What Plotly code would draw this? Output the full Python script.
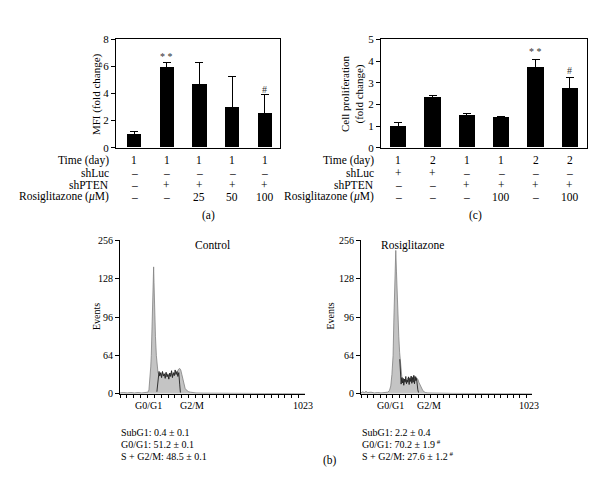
import plotly.graph_objects as go

# ---------------- data ----------------
# Panel (a): MFI fold change
a_vals = [1.0, 5.9, 4.7, 3.0, 2.55]
a_err = [0.2, 0.4, 1.6, 2.25, 1.35]
a_time = ["1", "1", "1", "1", "1"]
a_shluc = ["–", "–", "–", "–", "–"]
a_shpten = ["–", "+", "+", "+", "+"]
a_rosi = ["–", "–", "25", "50", "100"]
a_marks = ["", "* *", "", "", "#"]
a_mark_y = [0, 6.7, 0, 0, 4.3]

# Panel (c): Cell proliferation fold change
c_vals = [1.0, 2.32, 1.48, 1.4, 3.72, 2.72]
c_err = [0.18, 0.11, 0.1, 0.05, 0.36, 0.53]
c_time = ["1", "2", "1", "1", "2", "2"]
c_shluc = ["+", "+", "–", "–", "–", "–"]
c_shpten = ["–", "–", "+", "+", "+", "+"]
c_rosi = ["–", "–", "–", "100", "–", "100"]
c_marks = ["", "", "", "", "* *", "#"]
c_mark_y = [0, 0, 0, 0, 4.46, 3.56]

row_labels = ["Time (day)", "shLuc", "shPTEN", "Rosiglitazone (<i>μ</i>M)"]

# Panel (b): DNA content histograms (channel, level on the 0-4 display axis)
hist_ticks = [0, 1, 2, 3, 4]
hist_ticktext = ["0", "64", "96", "128", "256"]

ctrl_ch = [0, 20, 40, 60, 80, 100, 120, 140, 155, 160, 166, 170, 173, 176, 179, 182, 184, 186,
           188, 190, 192, 196, 201, 205, 210, 216, 222, 228, 234, 240, 246, 252, 258, 264, 270,
           276, 282, 288, 294, 300, 306, 312, 318, 324, 330, 336, 342, 348, 354, 360, 366, 372,
           380, 390, 400, 420, 460, 520, 600, 700, 800, 900, 1023]
ctrl_lv = [0.02, 0.03, 0.02, 0.03, 0.02, 0.03, 0.02, 0.03, 0.04, 0.1, 0.4, 0.7, 1.0, 1.5, 2.0, 2.6,
           3.0, 3.31, 2.9, 2.4, 2.0, 1.5, 1.0, 0.7, 0.55, 0.5, 0.53, 0.48, 0.55, 0.5, 0.47, 0.53,
           0.49, 0.52, 0.46, 0.5, 0.54, 0.48, 0.52, 0.5, 0.55, 0.53, 0.6, 0.64, 0.66, 0.62, 0.5,
           0.35, 0.22, 0.14, 0.1, 0.07, 0.05, 0.04, 0.03, 0.02, 0.015, 0.01, 0.01, 0.008, 0.005,
           0.005, 0.0]
ctrl_s_ch = [204, 209, 213, 216, 220, 225, 230, 235, 240, 245, 250, 255, 260, 265, 270, 275, 280,
             285, 290, 295, 300, 305, 310, 315, 320, 325, 330, 334]
ctrl_s_lv = [0.05, 0.25, 0.5, 0.58, 0.46, 0.55, 0.42, 0.58, 0.46, 0.52, 0.4, 0.56, 0.44, 0.5, 0.38,
             0.54, 0.45, 0.6, 0.42, 0.55, 0.47, 0.62, 0.5, 0.58, 0.45, 0.55, 0.25, 0.03]

rosi_ch = [0, 10, 20, 30, 40, 60, 80, 100, 120, 140, 160, 170, 178, 185, 192, 197, 203, 208, 212,
           216, 221, 226, 231, 235, 239, 244, 250, 256, 262, 268, 274, 280, 286, 292, 298, 304,
           310, 316, 322, 328, 334, 340, 346, 352, 358, 364, 370, 378, 386, 400, 450, 550, 700, 1023]
rosi_lv = [0.02, 0.05, 0.03, 0.06, 0.03, 0.04, 0.02, 0.03, 0.02, 0.03, 0.04, 0.08, 0.2, 0.5, 1.0,
           2.0, 3.0, 3.74, 3.2, 2.6, 2.0, 1.5, 1.08, 0.8, 0.54, 0.45, 0.4, 0.35, 0.38, 0.33, 0.36,
           0.4, 0.37, 0.42, 0.4, 0.44, 0.42, 0.46, 0.43, 0.45, 0.4, 0.38, 0.3, 0.25, 0.18, 0.12,
           0.08, 0.05, 0.03, 0.02, 0.01, 0.008, 0.005, 0.0]
rosi_s_ch = [232, 236, 240, 244, 248, 252, 256, 260, 264, 268, 272, 276, 280, 284, 288, 292, 296,
             300, 304, 308, 312, 316, 320, 324, 328, 332, 336, 340, 344]
rosi_s_lv = [0.9, 0.45, 0.25, 0.42, 0.28, 0.4, 0.22, 0.38, 0.3, 0.45, 0.26, 0.36, 0.3, 0.44, 0.24,
             0.4, 0.32, 0.46, 0.27, 0.42, 0.3, 0.48, 0.26, 0.44, 0.34, 0.4, 0.2, 0.1, 0.03]

ctrl_stats = ["SubG1: 0.4 ± 0.1", "G0/G1: 51.2 ± 0.1", "S + G2/M: 48.5 ± 0.1"]
rosi_stats = ["SubG1: 2.2 ± 0.4", "G0/G1: 70.2 ± 1.9<sup> #</sup>", "S + G2/M: 27.6 ± 1.2<sup> #</sup>"]
hist_xlabels = ["G0/G1", "G2/M", "1023"]
ctrl_xlabel_pos = [160, 398, 1010]
rosi_xlabel_pos = [179, 407, 1005]

# ---------------- figure ----------------
FONT = "Liberation Serif, Times New Roman, Times, serif"
W, H = 600, 502


def px(x):
    return x / W


def py(y):
    return 1 - y / H


fig = go.Figure()

# bars
fig.add_trace(go.Bar(x=list(range(len(a_vals))), y=a_vals, width=0.43, marker=dict(color="black", line=dict(width=0)),
                     error_y=dict(type="data", array=a_err, arrayminus=[0] * len(a_err), symmetric=False,
                                  color="black", thickness=1, width=4),
                     xaxis="x", yaxis="y", showlegend=False))
fig.add_trace(go.Bar(x=list(range(len(c_vals))), y=c_vals, width=0.47, marker=dict(color="black", line=dict(width=0)),
                     error_y=dict(type="data", array=c_err, arrayminus=[0] * len(c_err), symmetric=False,
                                  color="black", thickness=1, width=4),
                     xaxis="x2", yaxis="y2", showlegend=False))

# histograms
for ch, lv, sch, slv, xa, ya in [(ctrl_ch, ctrl_lv, ctrl_s_ch, ctrl_s_lv, "x3", "y3"),
                                  (rosi_ch, rosi_lv, rosi_s_ch, rosi_s_lv, "x4", "y4")]:
    fig.add_trace(go.Scatter(x=ch, y=lv, mode="lines", fill="tozeroy", fillcolor="#c4c4c4",
                             line=dict(color="#808080", width=0.8), xaxis=xa, yaxis=ya, showlegend=False))
    fig.add_trace(go.Scatter(x=sch, y=slv, mode="lines", line=dict(color="#202020", width=0.9),
                             xaxis=xa, yaxis=ya, showlegend=False))

bar_y = dict(showline=True, mirror=True, linecolor="black", linewidth=1, ticks="outside", ticklen=4,
             tickcolor="black", showgrid=False, zeroline=False,
             tickfont=dict(family=FONT, size=11, color="black"))
bar_x = dict(showline=True, mirror=True, linecolor="black", linewidth=1, showticklabels=False,
             ticks="", showgrid=False, zeroline=False)
hist_y = dict(showline=True, linecolor="black", linewidth=1, ticks="outside", ticklen=4, tickcolor="black",
              tickvals=hist_ticks, ticktext=hist_ticktext, range=[0, 4], showgrid=False, zeroline=False,
              tickfont=dict(family=FONT, size=10, color="black"))
hist_x = dict(showline=True, linecolor="black", linewidth=1, ticks="outside", ticklen=3, tickcolor="black",
              tick0=0, dtick=38, range=[0, 1023], showticklabels=False, showgrid=False, zeroline=False)

fig.update_layout(
    width=W, height=H, margin=dict(l=0, r=0, t=0, b=0),
    paper_bgcolor="white", plot_bgcolor="white",
    font=dict(family=FONT, color="black", size=11),
    bargap=0,
    xaxis=dict(bar_x, domain=[px(108), px(272)], range=[-0.55, 4.46], anchor="y"),
    yaxis=dict(bar_y, domain=[py(137), py(26)], range=[0, 8], dtick=2, anchor="x"),
    xaxis2=dict(bar_x, domain=[px(373), px(579)], range=[-0.5, 5.5], anchor="y2"),
    yaxis2=dict(bar_y, domain=[py(137), py(26)], range=[0, 5], dtick=1, anchor="x2"),
    xaxis3=dict(hist_x, domain=[px(112), px(297)], anchor="y3"),
    yaxis3=dict(hist_y, domain=[py(389), py(232)], anchor="x3"),
    xaxis4=dict(hist_x, domain=[px(353), px(524)], anchor="y4"),
    yaxis4=dict(hist_y, domain=[py(389), py(232)], anchor="x4"),
)

ann = []


def A(**kw):
    d = dict(showarrow=False, font=dict(family=FONT, size=11.5, color="black"))
    d.update(kw)
    ann.append(d)


row_ys = [150, 163, 175, 187]
for rows, xr, lab_x in [([a_time, a_shluc, a_shpten, a_rosi], "x", 103),
                        ([c_time, c_shluc, c_shpten, c_rosi], "x2", 368)]:
    for r, (vals, ry) in enumerate(zip(rows, row_ys)):
        A(text=row_labels[r], x=px(lab_x), y=py(ry), xref="paper", yref="paper", xanchor="right", yanchor="middle")
        for i, v in enumerate(vals):
            A(text=v, x=i, y=py(ry), xref=xr, yref="paper", xanchor="center", yanchor="middle")

for marks, my, xr, yr in [(a_marks, a_mark_y, "x", "y"), (c_marks, c_mark_y, "x2", "y2")]:
    for i, (m, yv) in enumerate(zip(marks, my)):
        if m:
            A(text=m, x=i, y=yv, xref=xr, yref=yr, xanchor="center", yanchor="middle",
              font=dict(family=FONT, size=10, color="#333"))

A(text="MFI (fold change)", x=px(88), y=py(82), xref="paper", yref="paper", textangle=-90,
  xanchor="center", yanchor="middle", font=dict(family=FONT, size=11, color="black"))
A(text="Cell proliferation<br>(fold change)", x=px(344), y=py(82), xref="paper", yref="paper", textangle=-90,
  xanchor="center", yanchor="middle", font=dict(family=FONT, size=11, color="black"))
A(text="(a)", x=px(192), y=py(206), xref="paper", yref="paper")
A(text="(c)", x=px(476), y=py(206), xref="paper", yref="paper")
A(text="(b)", x=px(322), y=py(466), xref="paper", yref="paper")

A(text="Control", x=px(204), y=py(237), xref="paper", yref="paper")
A(text="Rosiglitazone", x=px(438), y=py(237), xref="paper", yref="paper")
A(text="Events", x=px(81), y=py(310), xref="paper", yref="paper", textangle=-90,
  font=dict(family=FONT, size=10, color="black"))
A(text="Events", x=px(323), y=py(310), xref="paper", yref="paper", textangle=-90,
  font=dict(family=FONT, size=10, color="black"))

for xr, poss in [("x3", ctrl_xlabel_pos), ("x4", rosi_xlabel_pos)]:
    for t, p in zip(hist_xlabels, poss):
        A(text=t, x=p, y=py(401), xref=xr, yref="paper", yanchor="middle",
          font=dict(family=FONT, size=10, color="black"))

for stats, sx in [(ctrl_stats, 111), (rosi_stats, 352)]:
    for t, sy in zip(stats, [429, 441, 453]):
        A(text=t, x=px(sx), y=py(sy), xref="paper", yref="paper", xanchor="left", yanchor="middle",
          font=dict(family=FONT, size=10, color="black"))

fig.update_layout(annotations=ann)
fig.write_html("out.html")
